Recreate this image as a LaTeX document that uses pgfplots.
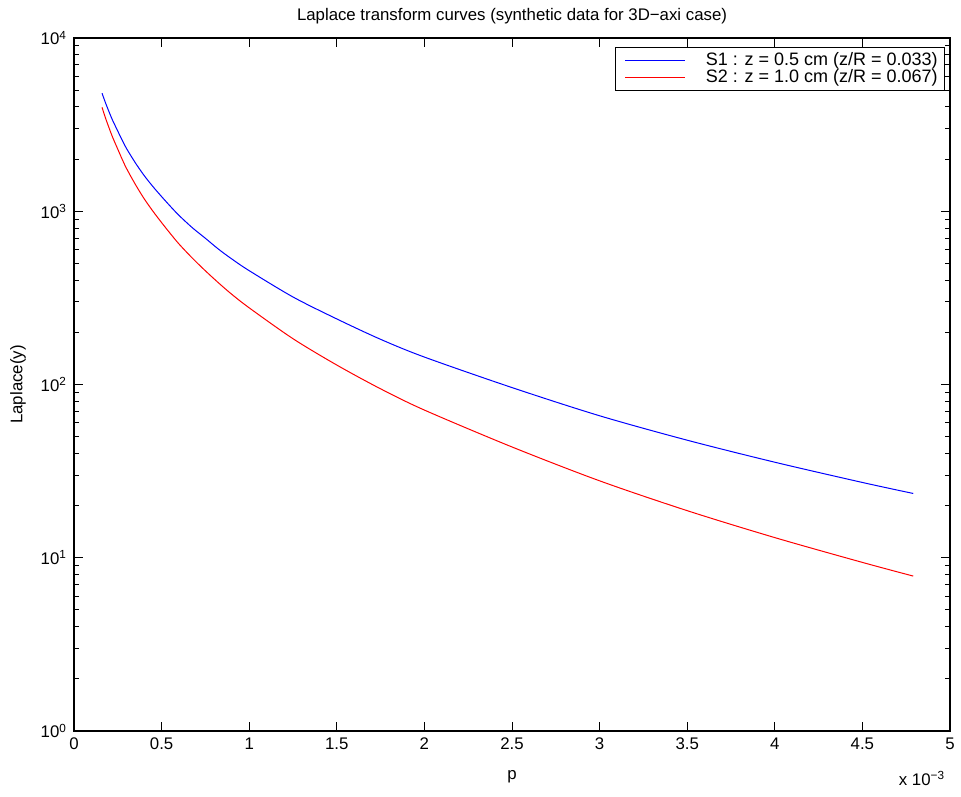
\documentclass[border=0pt]{standalone}
\usepackage{fontspec}
\setmainfont{Liberation Sans}
\usepackage{pgfplots}
\pgfplotsset{compat=1.18}

% blue: S1 (z = 0.5 cm), red: S2 (z = 1.0 cm); p in units of 1e-3
\pgfplotstableread{
p      S1     S2
0.16   4800   3980
0.18   4220   3448
0.20   3750   3030
0.22   3355   2680
0.25   2900   2280
0.275  2570   1996
0.30   2300   1764
0.35   1905   1430
0.40   1610   1183
0.45   1390   1002
0.50   1215   860
0.55   1068   743
0.60   945    646
0.675  804    537
0.75   698    453
0.825  604    386
0.90   531    332
1.00   454    277
1.25   320    183.8
1.50   239    129.5
1.75   182.3  94.4
2.00   144    71.2
2.50   96     43.6
3.00   66     27.8
3.50   47.7   18.7
4.00   35.6   13.07
4.50   27.2   9.40
4.79   23.5   7.84
}\lapdata

\begin{document}
\begin{tikzpicture}
\path[use as bounding box] (-37pt,-32.5pt) rectangle (443.5pt,365.5pt);
\begin{axis}[
  width=438pt, height=346.5pt, scale only axis,
  clip mode=individual,
  ymode=log,
  xmin=0, xmax=5, ymin=1, ymax=10000,
  xtick={0,0.5,1,1.5,2,2.5,3,3.5,4,4.5,5},
  xticklabels={0,0.5,1,1.5,2,2.5,3,3.5,4,4.5,5},
  ytick={1,10,100,1000,10000},
  yticklabels={10\textsuperscript{0},10\textsuperscript{1},10\textsuperscript{2},10\textsuperscript{3},10\textsuperscript{4}},
  /pgf/number format/assume math mode=true,
  tick label style={font=\fontsize{8.4}{10}\selectfont},
  label style={font=\fontsize{8.4}{10}\selectfont},
  major tick length=4.5pt, minor tick length=2.5pt,
  every tick/.style={black, line width=0.5pt},
  axis line style={line width=0.6pt},
  every axis title shift=0pt,
  title={Laplace transform curves (synthetic data for 3D−axi case)},
  title style={font=\fontsize{8.4}{10}\selectfont, at={(axis description cs:0.5,1)}, anchor=base, yshift=9pt},
  xlabel={p},
  xlabel style={at={(axis description cs:0.5,-0.066)}, anchor=center},
  ylabel={Laplace(y)},
  ylabel style={at={(axis description cs:-0.0639,0.5)}, anchor=center},
  legend style={at={(axis description cs:1,1)}, anchor=north east, xshift=-2.5pt, yshift=-4.5pt,
    font=\fontsize{9}{9}\selectfont, inner xsep=1.5pt, inner ysep=2pt, row sep=-1pt,
    nodes={inner ysep=0.6pt}},
  legend cell align=left,
  legend image code/.code={\draw[#1] (3pt,0pt) -- (33pt,0pt); \path (0pt,0pt); \path (41pt,0pt);},
]
\addplot[blue, line width=0.5pt, smooth] table[x=p, y=S1] {\lapdata};
\addlegendentry{S1 : z = 0.5 cm (z/R = 0.033)}
\addplot[red, line width=0.5pt, smooth] table[x=p, y=S2] {\lapdata};
\addlegendentry{S2 : z = 1.0 cm (z/R = 0.067)}
\node[anchor=base, font=\fontsize{8.4}{10}\selectfont] at (axis description cs:0.968,-0.078) {x 10\textsuperscript{−3}};
\end{axis}
\end{tikzpicture}
\end{document}
